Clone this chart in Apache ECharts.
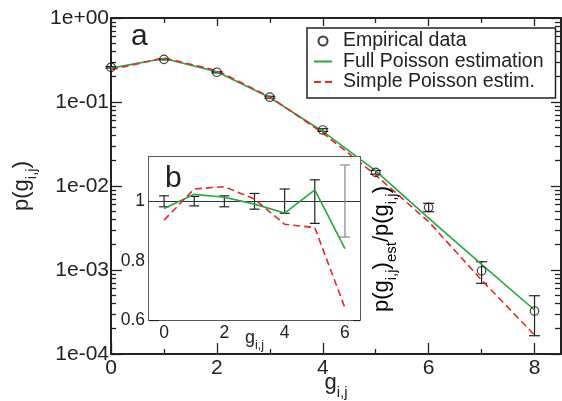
<!DOCTYPE html>
<html><head><meta charset="utf-8">
<script src="https://cdn.jsdelivr.net/npm/echarts@6/dist/echarts.min.js"></script>
<style>html,body{margin:0;padding:0;background:#fff}#c{width:562px;height:401px}</style>
</head><body><div id="c"></div>
<script>
// ---- main panel (a) data ----
const gMain = [0, 1, 2, 3, 4, 5, 6, 7, 8];
const empirical = [0.259, 0.322, 0.226, 0.114, 0.0464, 0.01455, 0.00557, 0.00098, 0.000325];
const empLow = [0.254, 0.317, 0.222, 0.111, 0.0447, 0.0138, 0.00494, 0.000694, 0.000165];
const empHigh = [0.264, 0.327, 0.230, 0.117, 0.0481, 0.0153, 0.00622, 0.001256, 0.000494];
const fullPoisson = [0.253, 0.330, 0.229, 0.113, 0.0446, 0.0151, 0.00415, 0.00117, 0.000334];
const simplePoisson = [0.243, 0.335, 0.237, 0.115, 0.0428, 0.0135, 0.00376, 0.00076, 0.000168];

// ---- inset panel (b) data ----
const gInset = [0, 1, 2, 3, 4, 5, 6];
const ratioFull = [0.976, 1.024, 1.014, 0.991, 0.961, 1.039, 0.841];
const ratioSimple = [0.937, 1.042, 1.050, 1.008, 0.923, 0.912, 0.641];
const ratioLow = [0.982, 0.985, 0.982, 0.974, 0.960, 0.926, 0.880];
const ratioHigh = [1.019, 1.017, 1.019, 1.027, 1.042, 1.073, 1.123];

// ---- ticks ----
const mainXMajor = [0, 2, 4, 6, 8];
const mainXMinor = [1, 3, 5, 7];
const mainYMajor = [1e-4, 1e-3, 1e-2, 1e-1, 1];
const mainYLabels = ['1e-04', '1e-03', '1e-02', '1e-01', '1e+00'];
const minorMult = [2, 3, 4, 5, 6, 7, 8, 9];
const mainYMinor = [];
[1e-4, 1e-3, 1e-2, 1e-1].forEach(d => minorMult.forEach(m => mainYMinor.push(+(d * m).toPrecision(3))));
const insetXMajor = [0, 2, 4, 6];
const insetXMinor = [1, 3, 5];
const insetYMajor = [0.6, 0.8, 1];
const insetYMinor = [0.7, 0.9, 1.1];
const insetYAll = [0.6, 0.7, 0.8, 0.9, 1, 1.1];

const FONT = 'Liberation Sans, Arial, Helvetica, sans-serif';
const INK = '#222';
const GREEN = '#22aa3f';
const RED = '#e8262c';

const zip = (a, b) => a.map((v, i) => [v, b[i]]);
const zip3 = (a, b, c) => a.map((v, i) => [v, b[i], c[i]]);

function xAx(grid, pos, min, max, ticks, len, lineW, withLine, labels, extra) {
  return Object.assign({
    type: 'value', gridIndex: grid, position: pos, min: min, max: max,
    axisLine: {show: withLine, onZero: false, lineStyle: {color: INK, width: lineW}},
    axisTick: {show: true, inside: true, length: len, customValues: ticks, lineStyle: {color: INK, width: 1.3}},
    axisLabel: labels ? Object.assign({show: true}, labels) : {show: false},
    splitLine: {show: false}, nameMoveOverlap: false
  }, extra || {});
}
function yAx(grid, pos, type, min, max, ticks, len, lineW, withLine, labels, extra) {
  const o = {
    type: type, gridIndex: grid, position: pos, min: min, max: max,
    axisLine: {show: withLine, onZero: false, lineStyle: {color: INK, width: lineW}},
    axisTick: {show: true, inside: true, length: len, customValues: ticks, lineStyle: {color: INK, width: 1.3}},
    axisLabel: labels ? Object.assign({show: true}, labels) : {show: false},
    splitLine: {show: false}, nameMoveOverlap: false
  };
  if (type === 'log') o.logBase = 10;
  return Object.assign(o, extra || {});
}

const subRich = (big, small, pad) => ({
  g: {fontSize: big, fontFamily: FONT, color: INK},
  s: {fontSize: small, fontFamily: FONT, color: INK, padding: [pad, 0, 0, 0]}
});

function errRender(capHalf, lastColor) {
  return function (params, api) {
    const x = api.value(0), lo = api.value(1), hi = api.value(2);
    const a = api.coord([x, lo]), b = api.coord([x, hi]);
    const isLast = lastColor && params.dataIndex === params.dataInsideLength - 1;
    const st = {stroke: isLast ? lastColor : INK, lineWidth: 1.2};
    return {type: 'group', children: [
      {type: 'line', shape: {x1: a[0], y1: a[1], x2: b[0], y2: b[1]}, style: st},
      {type: 'line', shape: {x1: a[0] - capHalf, y1: a[1], x2: a[0] + capHalf, y2: a[1]}, style: st},
      {type: 'line', shape: {x1: b[0] - capHalf, y1: b[1], x2: b[0] + capHalf, y2: b[1]}, style: st}
    ]};
  };
}

const hiddenSymbol = {color: 'rgba(0,0,0,0)', borderWidth: 0, opacity: 0};

const chart = echarts.init(document.getElementById('c'), null, {renderer: 'canvas'});
chart.setOption({
  backgroundColor: '#fff',
  animation: false,
  textStyle: {fontFamily: FONT},
  grid: [
    {left: 111, top: 18, width: 450, height: 336, outerBoundsMode: 'none', containLabel: false},
    {left: 149, top: 157, width: 211, height: 163, outerBoundsMode: 'none', containLabel: false,
     show: true, backgroundColor: '#fff', borderWidth: 0, z: 3}
  ],
  legend: {
    orient: 'vertical', left: 307, top: 28,
    padding: [3, 12, 6, 6],
    itemWidth: 18, itemHeight: 9, itemGap: 0.5,
    borderColor: INK, borderWidth: 1.5, backgroundColor: '#fff',
    textStyle: {fontSize: 19.5, fontFamily: FONT, color: INK, padding: [0, 0, 0, 6]},
    data: [
      {name: 'Empirical data'},
      {name: 'Full Poisson estimation', itemStyle: hiddenSymbol},
      {name: 'Simple Poisson estim.', itemStyle: hiddenSymbol}
    ],
    selectedMode: false, z: 10
  },
  xAxis: [
    xAx(0, 'bottom', 0, 8.5, mainXMajor, 11, 2, true,
      {customValues: mainXMajor, fontSize: 21, color: INK, margin: 4, fontFamily: FONT},
      {name: '{g|g}{s|i,j}', nameLocation: 'middle', nameGap: 11,
       nameTextStyle: {rich: subRich(22, 15, 20)}}),
    xAx(0, 'bottom', 0, 8.5, mainXMinor, 5, 2, false, null),
    xAx(0, 'top', 0, 8.5, mainXMajor, 8, 2, true, null),
    xAx(0, 'top', 0, 8.5, mainXMinor, 5, 2, false, null),
    xAx(1, 'bottom', -0.5, 6.5, insetXMajor, 7, 1.5, true,
      {customValues: insetXMajor, fontSize: 17.5, color: INK, margin: 4, fontFamily: FONT},
      {name: '{g|g}{s|i,j}', nameLocation: 'middle', nameGap: 5,
       nameTextStyle: {rich: subRich(18, 12.5, 14)}}),
    xAx(1, 'bottom', -0.5, 6.5, insetXMinor, 4, 1.5, false, null),
    xAx(1, 'top', -0.5, 6.5, gInset, 7, 1.5, true, null)
  ],
  yAxis: [
    yAx(0, 'left', 'log', 1e-4, 1, mainYMajor, 11, 2, true,
      {customValues: mainYMajor, fontSize: 21, color: INK, margin: 2, fontFamily: FONT,
       formatter: v => mainYLabels[mainYMajor.findIndex(t => Math.abs(Math.log10(t) - Math.log10(v)) < 1e-6)]},
      {name: '{g|p(g}{s|i,j}{g|)}', nameLocation: 'middle', nameRotate: 90, nameGap: 72,
       nameTextStyle: {rich: subRich(22, 15, 20)}}),
    yAx(0, 'left', 'log', 1e-4, 1, mainYMinor, 5, 2, false, null),
    yAx(0, 'right', 'log', 1e-4, 1, mainYMajor, 10, 2, true, null),
    yAx(0, 'right', 'log', 1e-4, 1, mainYMinor, 6, 2, false, null),
    yAx(1, 'left', 'value', 0.6, 1.15, insetYMajor, 10, 1.5, true,
      {customValues: insetYMajor, fontSize: 17.5, color: INK, margin: 4, fontFamily: FONT,
       formatter: v => String(Math.round(v * 10) / 10)}),
    yAx(1, 'left', 'value', 0.6, 1.15, insetYMinor, 4, 1.5, false, null),
    yAx(1, 'right', 'value', 0.6, 1.15, insetYAll, 7, 1.5, true, null)
  ],
  graphic: [
    {type: 'text', x: 131, y: 37, z: 20,
     style: {text: 'a', font: '30px ' + FONT, fill: INK, verticalAlign: 'middle'}},
    {type: 'text', x: 165, y: 179, z: 20,
     style: {text: 'b', font: '30px ' + FONT, fill: INK, verticalAlign: 'middle'}},
    {type: 'text', x: 382, y: 249, rotation: Math.PI / 2, z: 20,
     style: {text: '{g|p(g}{s|i,j}{g|)}{s|est}{g|/p(g}{s|i,j}{g|)}', align: 'center', verticalAlign: 'middle',
             rich: subRich(22, 15, 20)}}
  ],
  series: [
    {name: 'Full Poisson estimation', type: 'line', xAxisIndex: 0, yAxisIndex: 0,
     data: zip(gMain, fullPoisson), symbol: 'none', color: GREEN,
     lineStyle: {color: GREEN, width: 1.6}, z: 2},
    {name: 'Simple Poisson estim.', type: 'line', xAxisIndex: 0, yAxisIndex: 0,
     data: zip(gMain, simplePoisson), symbol: 'none', color: RED,
     lineStyle: {color: RED, width: 1.6, type: [7, 4]}, z: 2},
    {name: 'empErr', type: 'custom', xAxisIndex: 0, yAxisIndex: 0,
     data: zip3(gMain, empLow, empHigh), encode: {x: 0, y: [1, 2]},
     renderItem: errRender(5.5, null), z: 2},
    {name: 'Empirical data', type: 'scatter', xAxisIndex: 0, yAxisIndex: 0,
     data: zip(gMain, empirical), symbol: 'circle', symbolSize: 8.5,
     itemStyle: {color: 'rgba(0,0,0,0)', borderColor: '#111', borderWidth: 1.2}, z: 3},
    {name: 'ratioFull', type: 'line', xAxisIndex: 4, yAxisIndex: 4,
     data: zip(gInset, ratioFull), symbol: 'none',
     lineStyle: {color: GREEN, width: 1.6}, z: 5,
     markLine: {silent: true, symbol: ['none', 'none'], label: {show: false},
                lineStyle: {color: '#333', width: 1.2, type: 'solid'}, data: [{yAxis: 1}]}},
    {name: 'ratioSimple', type: 'line', xAxisIndex: 4, yAxisIndex: 4,
     data: zip(gInset, ratioSimple), symbol: 'none',
     lineStyle: {color: RED, width: 1.6, type: [7, 4]}, z: 5},
    {name: 'ratioErr', type: 'custom', xAxisIndex: 4, yAxisIndex: 4,
     data: zip3(gInset, ratioLow, ratioHigh), encode: {x: 0, y: [1, 2]},
     renderItem: errRender(5, '#888'), z: 5}
  ]
});
</script></body></html>
